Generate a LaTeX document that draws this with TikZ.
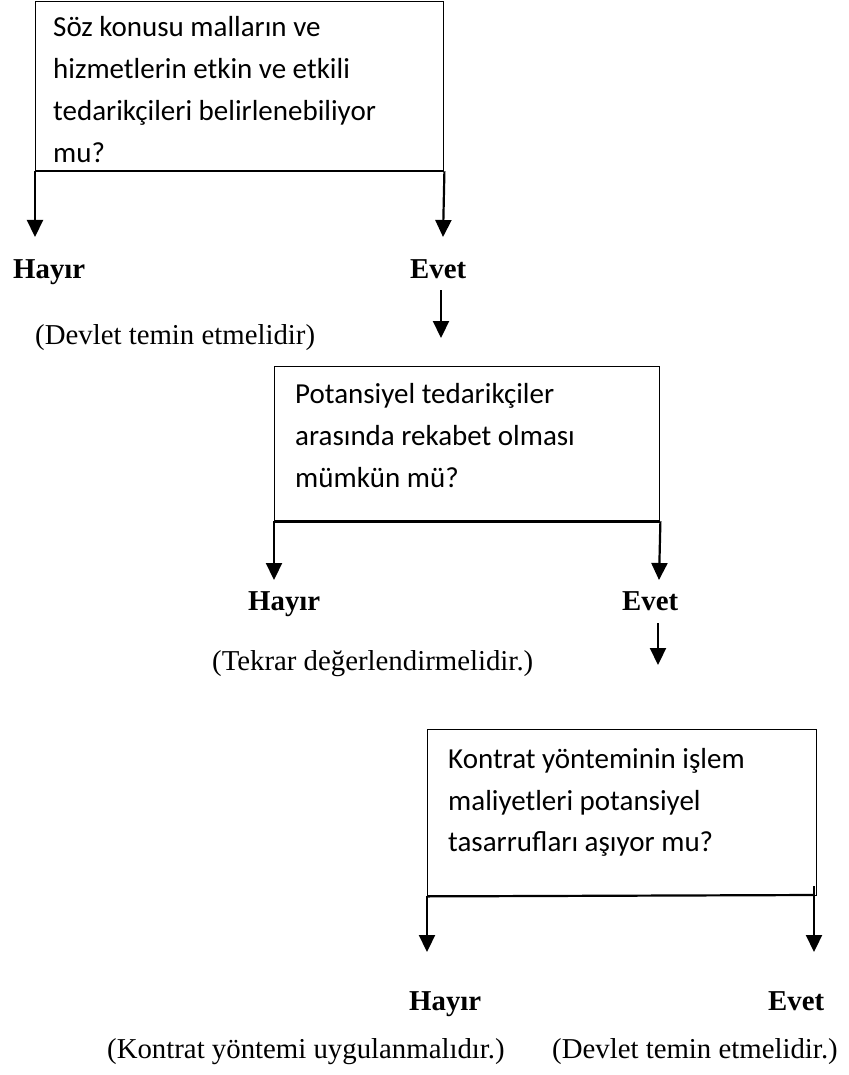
\documentclass[tikz,border=0pt]{standalone}
\usepackage{fontspec}
\setmainfont{Liberation Serif}
\newfontfamily\boxfont{Carlito}
\usetikzlibrary{arrows.meta}
\begin{document}
\begin{tikzpicture}[x=1pt,y=-1pt,
  qbox/.style={draw, line width=1.4pt, inner sep=0pt, anchor=north west},
  qline/.style={font=\boxfont\fontsize{29}{35}\selectfont, anchor=base west, inner sep=0pt},
  ans/.style={font=\bfseries\fontsize{28.8}{34}\selectfont, anchor=base west, inner sep=0pt},
  note/.style={font=\fontsize{28.8}{34}\selectfont, anchor=base west, inner sep=0pt},
  arr/.style={line width=2.2pt, -{Triangle[width=16pt,length=17pt]}},
  bar/.style={line width=2.2pt}]
\useasboundingbox (0,0) rectangle (848,1075);

% ---- box 1
\node[qbox, minimum width=408pt, minimum height=169pt] (b1) at (35,1) {};
\node[qline] (q1a) at (53,37) {Söz konusu malların ve};
\node[qline] (q1b) at (53,79) {hizmetlerin etkin ve etkili};
\node[qline] (q1c) at (53,121) {tedarikçileri belirlenebiliyor};
\node[qline] (q1d) at (53,163) {mu?};
\draw[bar] (b1.south west) -- (b1.south east);
\coordinate (e1l) at (35,237);
\coordinate (e1r) at (443,237);
\draw[arr] (b1.south west) -- (e1l);
\draw[arr] (b1.south east) -- (e1r);
\node[ans] (n1) at (13,278) {Hayır};
\node[ans] (y1) at (410,278) {Evet};
\node[note] (d1) at (35,344) {(Devlet temin etmelidir)};
\coordinate (y1a) at (441,290);
\coordinate (y1b) at (441,338);
\draw[arr] (y1a) -- (y1b);

% ---- box 2
\node[qbox, minimum width=385pt, minimum height=154pt] (b2) at (274,366) {};
\node[qline] (q2a) at (295,403) {Potansiyel tedarikçiler};
\node[qline] (q2b) at (295,445) {arasında rekabet olması};
\node[qline] (q2c) at (295,487) {mümkün mü?};
\draw[bar] (b2.south west) -- (b2.south east);
\coordinate (e2l) at (274,580);
\coordinate (e2r) at (659,580);
\draw[arr] (b2.south west) -- (e2l);
\draw[arr] (b2.south east) -- (e2r);
\node[ans] (n2) at (248,610) {Hayır};
\node[ans] (y2) at (622,610) {Evet};
\node[note] (d2) at (212,670) {(Tekrar değerlendirmelidir.)};
\coordinate (y2a) at (658,623);
\coordinate (y2b) at (658,665);
\draw[arr] (y2a) -- (y2b);

% ---- box 3
\node[qbox, minimum width=389pt, minimum height=166pt] (b3) at (427,729) {};
\node[qline] (q3a) at (448,768) {Kontrat yönteminin işlem};
\node[qline] (q3b) at (448,810) {maliyetleri potansiyel};
\node[qline] (q3c) at (448,851) {tasarrufları aşıyor mu?};
\coordinate (j3) at (814,886);
\coordinate (k3) at (814,895);
\draw[bar] (b3.south west) -- (k3);
\coordinate (e3l) at (427,952);
\coordinate (e3r) at (814,952);
\draw[arr] (b3.south west) -- (e3l);
\draw[arr] (j3) -- (e3r);
\node[ans] (n3) at (409,1010) {Hayır};
\node[ans] (y3) at (768,1010) {Evet};
\node[note] (d3) at (107,1058) {(Kontrat yöntemi uygulanmalıdır.)};
\node[note] (d4) at (552,1058) {(Devlet temin etmelidir.)};
\end{tikzpicture}
\end{document}
